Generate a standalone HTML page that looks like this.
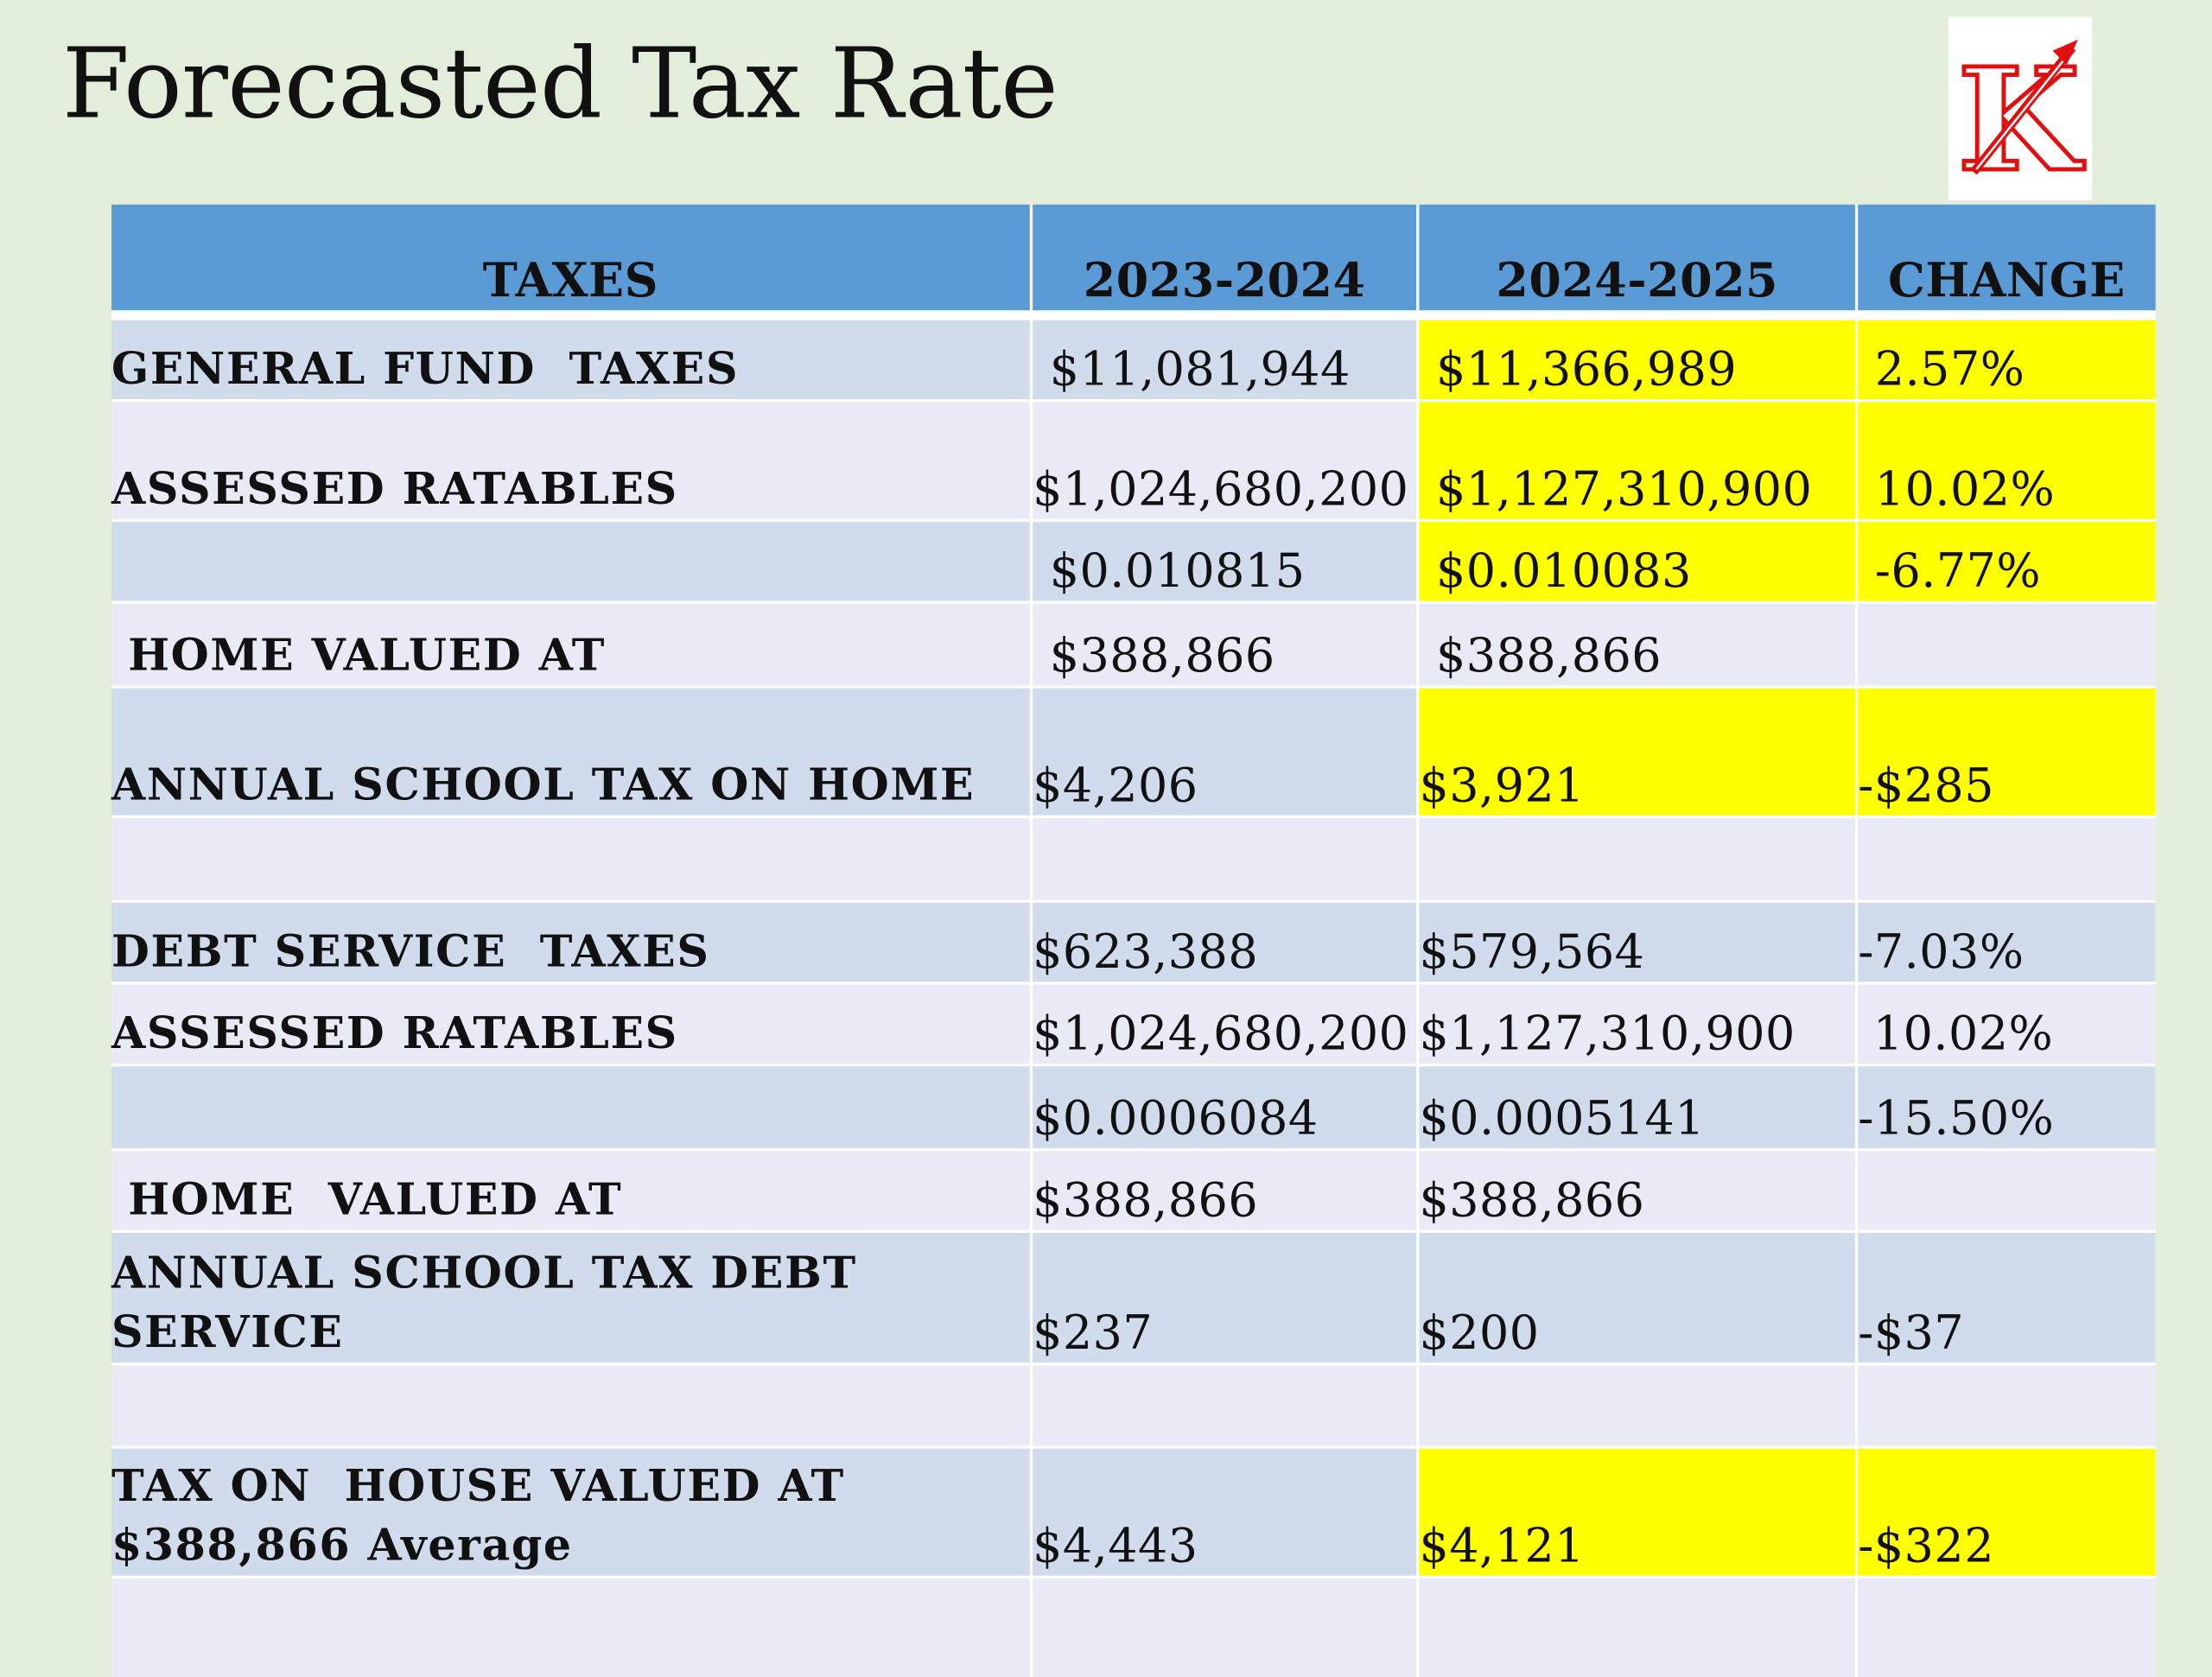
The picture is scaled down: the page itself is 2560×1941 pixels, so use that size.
<!DOCTYPE html>
<html><head><meta charset="utf-8"><style>
html,body{margin:0;padding:0;width:2560px;height:1920px;overflow:hidden;background:#e2eed9;}
#s{position:absolute;left:0;top:0;width:1568px;height:1176px;transform:scale(1.632653);transform-origin:0 0;}
h1{position:absolute;left:44px;top:20px;margin:0;font:400 69px "DejaVu Serif","Liberation Serif",serif;color:#111;letter-spacing:-0.5px;}
#logo{position:absolute;left:1381px;top:12px;width:102px;height:130px;background:#fff;}
#tbl{position:absolute;left:79px;top:145px;width:1449px;display:grid;grid-template-columns:651px 272px 309px 211px;grid-template-rows:75px 3px 56px 83px 56px 58px 90px 58px 56px 56px 58px 56px 92px 57px 90px 70px;gap:2px;background:#fff;}
#tbl>div{display:flex;align-items:flex-end;padding-bottom:0px;box-sizing:border-box;white-space:pre;font:400 33px "DejaVu Serif","Liberation Serif",serif;letter-spacing:0.3px;color:#111;line-height:42px;}
.h{background:#5b9bd5;justify-content:center;font-weight:700!important;font-size:33px!important;}
.d{background:#d0dcec;}.l{background:#e8ebf6;}.y{background:#ffff00;}.w{background:#fff;}
.b{font-weight:700!important;font-size:31px!important;letter-spacing:1px!important;}
.p1{padding-left:12px;}.p2{padding-left:12px;}
</style></head><body>
<div id="s">
<h1>Forecasted Tax Rate</h1>
<div id="logo">
<svg width="102" height="130" viewBox="0 0 102 130">
<text x="50" y="108" text-anchor="middle" font-family="DejaVu Serif" font-weight="700" font-size="100" fill="#fff" stroke="#e01010" stroke-width="3">K</text>
<line x1="18" y1="110" x2="88" y2="22" stroke="#e01010" stroke-width="6"/>
<line x1="20" y1="108" x2="84" y2="28" stroke="#fff" stroke-width="1.5"/>
<polygon points="92,16 74,24 84,34" fill="#e01010"/>
</svg></div>
<div id="tbl">
<div class="h">TAXES</div>
<div class="h">2023-2024</div>
<div class="h">2024-2025</div>
<div class="h">CHANGE</div>
<div class="w"></div><div class="w"></div><div class="w"></div><div class="w"></div>

<div class="d b">GENERAL FUND  TAXES</div>
<div class="d p1">$11,081,944</div>
<div class="y p2">$11,366,989</div>
<div class="y p2">2.57%</div>

<div class="l b">ASSESSED RATABLES</div>
<div class="l">$1,024,680,200</div>
<div class="y p2">$1,127,310,900</div>
<div class="y p2">10.02%</div>

<div class="d"></div>
<div class="d p1">$0.010815</div>
<div class="y p2">$0.010083</div>
<div class="y p2">-6.77%</div>

<div class="l b"> HOME VALUED AT</div>
<div class="l p1">$388,866</div>
<div class="l p2">$388,866</div>
<div class="l"></div>

<div class="d b">ANNUAL SCHOOL TAX ON HOME</div>
<div class="d">$4,206</div>
<div class="y">$3,921</div>
<div class="y">-$285</div>

<div class="l"></div><div class="l"></div><div class="l"></div><div class="l"></div>

<div class="d b">DEBT SERVICE  TAXES</div>
<div class="d">$623,388</div>
<div class="d">$579,564</div>
<div class="d">-7.03%</div>

<div class="l b">ASSESSED RATABLES</div>
<div class="l">$1,024,680,200</div>
<div class="l">$1,127,310,900</div>
<div class="l"> 10.02%</div>

<div class="d"></div>
<div class="d">$0.0006084</div>
<div class="d">$0.0005141</div>
<div class="d">-15.50%</div>

<div class="l b"> HOME  VALUED AT</div>
<div class="l">$388,866</div>
<div class="l">$388,866</div>
<div class="l"></div>

<div class="d b">ANNUAL SCHOOL TAX DEBT
SERVICE</div>
<div class="d">$237</div>
<div class="d">$200</div>
<div class="d">-$37</div>

<div class="l"></div><div class="l"></div><div class="l"></div><div class="l"></div>

<div class="d b">TAX ON  HOUSE VALUED AT
$388,866 Average</div>
<div class="d">$4,443</div>
<div class="y">$4,121</div>
<div class="y">-$322</div>

<div class="l"></div><div class="l"></div><div class="l"></div><div class="l"></div>
</div>
</div>
</body></html>
